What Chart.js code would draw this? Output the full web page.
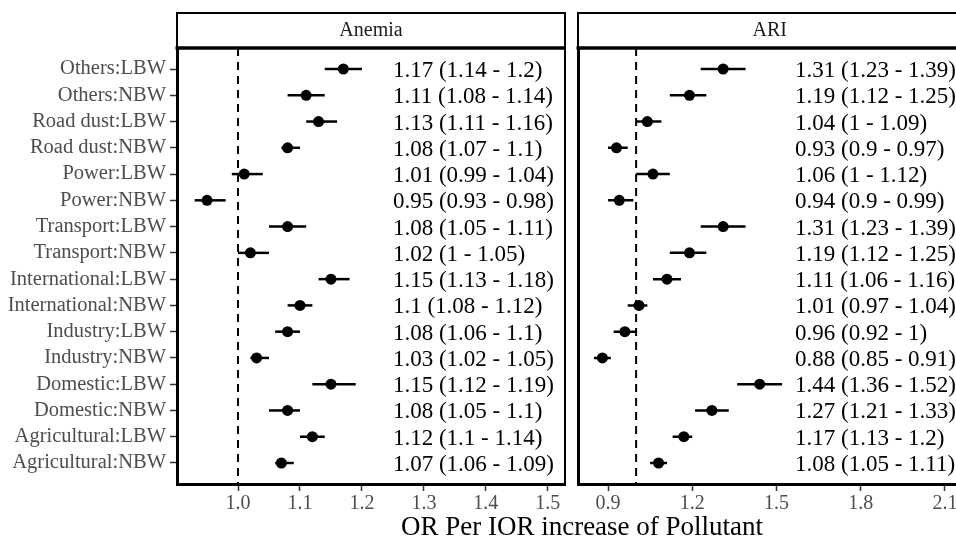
<!DOCTYPE html>
<html>
<head>
<meta charset="utf-8">
<script src="https://cdn.jsdelivr.net/npm/chart.js@4.4.1/dist/chart.umd.min.js"></script>
<style>
body{margin:0;background:#fff;overflow:hidden;width:956px;height:537px;position:relative}
canvas{position:absolute;top:0}
#xtitle{position:absolute;left:382px;width:400px;top:511px;text-align:center;font-family:"Liberation Serif";font-size:27px;line-height:30px;color:#000;white-space:nowrap}
</style>
</head>
<body>
<canvas id="anemia" width="572" height="537" style="left:0"></canvas>
<canvas id="ari" width="395" height="537" style="left:572px"></canvas>
<div id="xtitle">OR Per IOR increase of Pollutant</div>
<script>
var groups=['Others:LBW','Others:NBW','Road dust:LBW','Road dust:NBW','Power:LBW','Power:NBW','Transport:LBW','Transport:NBW','International:LBW','International:NBW','Industry:LBW','Industry:NBW','Domestic:LBW','Domestic:NBW','Agricultural:LBW','Agricultural:NBW']

var anemiaOR=[1.17,1.11,1.13,1.08,1.01,0.95,1.08,1.02,1.15,1.1,1.08,1.03,1.15,1.08,1.12,1.07]
var anemiaLow=[1.14,1.08,1.11,1.07,0.99,0.93,1.05,1,1.13,1.08,1.06,1.02,1.12,1.05,1.1,1.06]
var anemiaHigh=[1.2,1.14,1.16,1.1,1.04,0.98,1.11,1.05,1.18,1.12,1.1,1.05,1.19,1.1,1.14,1.09]

var ariOR=[1.31,1.19,1.04,0.93,1.06,0.94,1.31,1.19,1.11,1.01,0.96,0.88,1.44,1.27,1.17,1.08]
var ariLow=[1.23,1.12,1,0.9,1,0.9,1.23,1.12,1.06,0.97,0.92,0.85,1.36,1.21,1.13,1.05]
var ariHigh=[1.39,1.25,1.09,0.97,1.12,0.99,1.39,1.25,1.16,1.04,1,0.91,1.52,1.33,1.2,1.11]

var anemiaTicks=[1.0,1.1,1.2,1.3,1.4,1.5]
var ariTicks=[0.9,1.2,1.5,1.8,2.1]
var refValue=1

var serif='"Liberation Serif", "Times New Roman", serif'

var panelPlugin={
    id:'panel',
    afterDraw:function(chart,args,opts){
        var ctx=chart.ctx
        var a=chart.chartArea
        ctx.save()
        ctx.strokeStyle='#000'
        ctx.lineWidth=2
        ctx.strokeRect(a.left,13,a.right-a.left,a.top-13)
        ctx.beginPath()
        ctx.moveTo(a.right,a.top)
        ctx.lineTo(a.right,a.bottom)
        ctx.stroke()
        ctx.lineWidth=3.5
        ctx.beginPath()
        ctx.moveTo(a.left-1.5,a.top)
        ctx.lineTo(a.right+1,a.top)
        ctx.stroke()

        ctx.fillStyle='#1a1a1a'
        ctx.font='20px '+serif
        ctx.textAlign='center'
        ctx.textBaseline='middle'
        ctx.fillText(opts.title,(a.left+a.right)/2,31)

        ctx.fillStyle='#000'
        ctx.font='23px '+serif
        ctx.textAlign='left'
        ctx.textBaseline='alphabetic'
        var x=chart.scales.x.getPixelForValue(opts.labelAt)
        for(var i=0;i<groups.length;i++){
            var y=chart.scales.y.getPixelForValue(i+1)
            ctx.fillText(opts.est[i]+' ('+opts.low[i]+' - '+opts.high[i]+')',x,y+8)
        }
        ctx.restore()
    }
}

function makeData(est,low,high){
    var sets=[]
    sets.push({
        data:est.map(function(v,i){return {x:v,y:i+1}}),
        pointRadius:5.5,backgroundColor:'#000',borderColor:'#000',borderWidth:0,order:0
    })
    for(var i=0;i<est.length;i++){
        sets.push({
            data:[{x:low[i],y:i+1},{x:high[i],y:i+1}],
            showLine:true,borderColor:'#000',borderWidth:2.5,pointRadius:0,order:1
        })
    }
    sets.push({
        data:[{x:refValue,y:0.2},{x:refValue,y:16.8}],
        showLine:true,borderColor:'#000',borderWidth:2,borderDash:[8,6],pointRadius:0,order:2
    })
    return {datasets:sets}
}

function makeOptions(min,max,ticks,yWidth,showY,padRight,plug){
    return {
        responsive:false,
        animation:false,
        devicePixelRatio:1,
        layout:{padding:{top:48,right:padRight,left:0,bottom:0}},
        plugins:{legend:{display:false},tooltip:{enabled:false},panel:plug},
        scales:{
            x:{
                type:'linear',min:min,max:max,
                afterBuildTicks:function(s){s.ticks=ticks.map(function(v){return {value:v}})},
                afterFit:function(s){s.height=53},
                ticks:{
                    callback:function(v){return v.toFixed(1)},
                    color:'#4d4d4d',font:{family:serif,size:20},padding:1,maxRotation:0,autoSkip:false
                },
                grid:{drawOnChartArea:false,drawTicks:true,tickLength:7,color:'#333',tickWidth:1.5},
                border:{display:true,color:'#000',width:3}
            },
            y:{
                type:'linear',reverse:true,min:0.2,max:16.8,
                afterBuildTicks:function(s){s.ticks=groups.map(function(g,i){return {value:i+1}})},
                afterFit:function(s){s.width=yWidth},
                ticks:{
                    display:showY,
                    callback:function(v){return groups[Math.round(v)-1]},
                    color:'#4d4d4d',font:{family:serif,size:20.5},padding:4,autoSkip:false
                },
                grid:{drawOnChartArea:false,drawTicks:showY,tickLength:7,color:'#333',tickWidth:1.5},
                border:{display:true,color:'#000',width:3}
            }
        }
    }
}

new Chart(document.getElementById('anemia'),{
    type:'scatter',
    data:makeData(anemiaOR,anemiaLow,anemiaHigh),
    options:makeOptions(0.9015,1.5278,anemiaTicks,177,true,7,{title:'Anemia',labelAt:1.25,est:anemiaOR,low:anemiaLow,high:anemiaHigh}),
    plugins:[panelPlugin]
})

new Chart(document.getElementById('ari'),{
    type:'scatter',
    data:makeData(ariOR,ariLow,ariHigh),
    options:makeOptions(0.793,2.159,ariTicks,6,false,2,{title:'ARI',labelAt:1.566,est:ariOR,low:ariLow,high:ariHigh}),
    plugins:[panelPlugin]
})
</script>
</body>
</html>
